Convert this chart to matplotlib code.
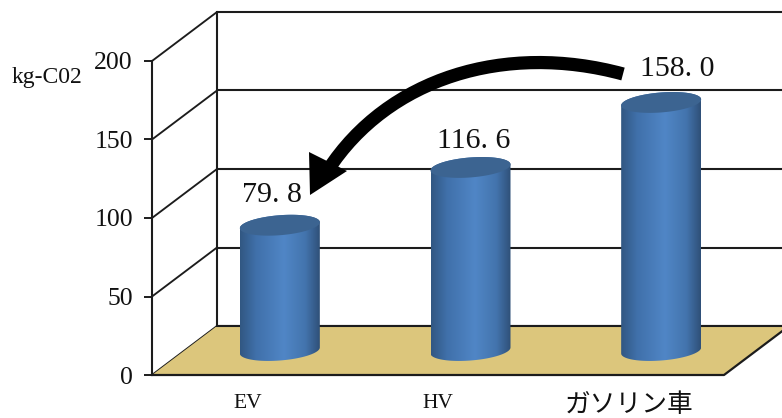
import numpy as np
import matplotlib
matplotlib.use("Agg")
import matplotlib.pyplot as plt
from matplotlib.colors import LinearSegmentedColormap
from matplotlib.path import Path
from matplotlib.patches import PathPatch, Polygon

categories = ["EV", "HV", "ガソリン車"]
values = [79.8, 116.6, 158.0]
y_ticks = [0, 50, 100, 150, 200]
unit_label = "kg-C02"

W, H = 782, 418
SERIF = ["Liberation Serif", "Noto Sans CJK JP"]
LINE = "#1c1c1c"

fig = plt.figure(figsize=(W / 100, H / 100), dpi=100, facecolor="white")
L, R, T, B = 152, 724, 61, 375
ax = fig.add_axes([L / W, (H - B) / H, (R - L) / W, (B - T) / H])
ax.set_facecolor("none")
n = len(categories)
xlim = (0, n)
ylim = (0, y_ticks[-1])

sx = (xlim[1] - xlim[0]) / (R - L)   # data per pixel
sy = (ylim[1] - ylim[0]) / (B - T)
dx, dy = 65 * sx, 49 * sy            # depth of the 3-D box

# walls
for v in y_ticks:
    ax.plot([0, dx], [v, v + dy], color=LINE, lw=1.35, clip_on=False, zorder=1, solid_capstyle="butt")
    ax.plot([dx, n + dx], [v + dy, v + dy], color=LINE, lw=1.5, clip_on=False, zorder=1, solid_capstyle="butt")
ax.plot([dx, dx], [dy, y_ticks[-1] + dy], color=LINE, lw=1.5, clip_on=False, zorder=1)

# floor
ax.add_patch(Polygon([(0, 0), (n, 0), (n + dx, dy), (dx, dy)], closed=True,
                     facecolor="#dcc67c", edgecolor="none", clip_on=False, zorder=2))
ax.plot([dx, n + dx], [dy, dy], color=LINE, lw=1.5, clip_on=False, zorder=3)
ax.plot([0, n, n + dx], [0, 0, dy], color=LINE, lw=1.6, clip_on=False, zorder=3)

# cylinders
cmap = LinearSegmentedColormap.from_list("cyl", [
    (0.00, "#315782"), (0.20, "#4070aa"), (0.55, "#5086c6"),
    (0.82, "#4374ad"), (1.00, "#2f5078")])
a = 40 * sx
b = 10 * sy
s = 3 * sy


def ell(cx, cy, t):
    return np.column_stack([cx + a * np.cos(t), cy + s * np.cos(t) + b * np.sin(t)])


grad = np.linspace(0, 1, 256)[None, :]
for i, v in enumerate(values):
    cx = i + 0.5 + dx / 2
    base = dy / 2
    top = base + v
    lower = ell(cx, base, np.linspace(np.pi, 2 * np.pi, 60))
    upper = ell(cx, top, np.linspace(0, np.pi, 60))
    pts = np.vstack([lower, upper, lower[:1]])
    body = PathPatch(Path(pts), transform=ax.transData, facecolor="none", edgecolor="none")
    ax.add_patch(body)
    im = ax.imshow(grad, cmap=cmap, aspect="auto", zorder=4, interpolation="bilinear",
                   extent=(cx - a, cx + a, base - 2 * b, top + 2 * b))
    im.set_clip_path(body)
    cap = ell(cx, top, np.linspace(0, 2 * np.pi, 120))
    ax.add_patch(Polygon(cap, closed=True, facecolor="#3c6491", edgecolor="none", zorder=5))

ax.set_xlim(*xlim)
ax.set_ylim(*ylim)

# value labels
label_off = [(-8, 30), (3, 26), (16, 33)]
for i, v in enumerate(values):
    ox, oy = label_off[i]
    px = 100 / 72
    ax.annotate(f"{v:.1f}".replace(".", ". "), xy=(i + 0.5 + dx / 2, dy / 2 + v),
                xytext=(ox / px, oy / px), textcoords="offset points",
                ha="center", va="center", fontsize=21.5, family=SERIF,
                color="#111111", zorder=8)

# axes furniture
for sp in ("top", "right", "bottom"):
    ax.spines[sp].set_visible(False)
ax.spines["left"].set_linewidth(1.5)
ax.spines["left"].set_color(LINE)
ax.set_yticks(y_ticks)
ax.set_yticklabels([str(t) for t in y_ticks], family=SERIF, fontsize=18.5, color="#111111")
ax.tick_params(axis="y", length=5.8, width=1.4, color=LINE, pad=8)
ax.set_xticks([i + 0.5 for i in range(n)])
ax.set_xticklabels(categories, family=SERIF, color="#111111")
ax.tick_params(axis="x", length=0, pad=13.5)
for lab, size in zip(ax.get_xticklabels(), [15.5, 15.5, 18.5]):
    lab.set_fontsize(size)

fig.text(47 / W, 1 - 77 / H, unit_label, ha="center", va="center",
         family=SERIF, fontsize=17, color="#111111")

# curved arrow, in figure pixels
def to_fig(p):
    return (p[0] / W, 1 - p[1] / H)


curve = Path([to_fig(p) for p in [(623, 74), (505, 42), (388, 78), (328, 170)]],
             [Path.MOVETO, Path.CURVE4, Path.CURVE4, Path.CURVE4])
fig.add_artist(PathPatch(curve, transform=fig.transFigure, facecolor="none",
                         edgecolor="black", lw=9.5, capstyle="butt", zorder=10))
fig.add_artist(Polygon([to_fig(p) for p in [(310, 195), (309, 152), (347, 171)]],
                       closed=True, transform=fig.transFigure, facecolor="black",
                       edgecolor="none", zorder=10))

fig.savefig("out.png", dpi=100)
